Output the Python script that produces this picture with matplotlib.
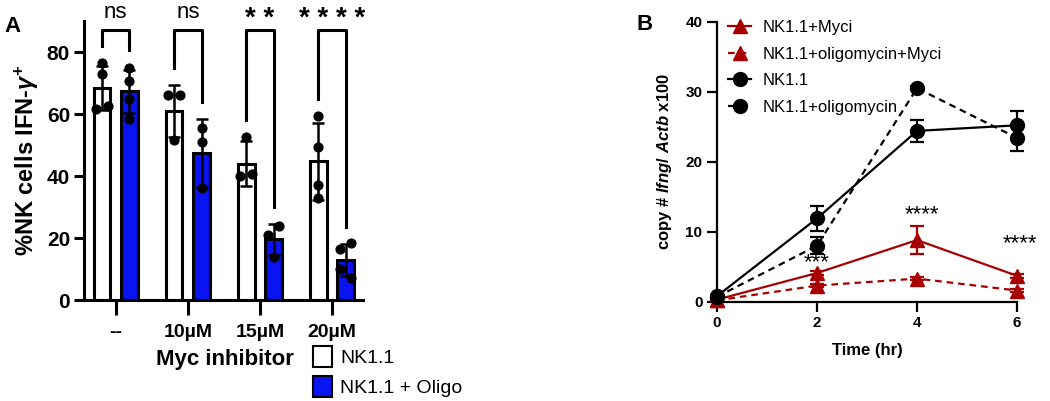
import numpy as np
import matplotlib
matplotlib.use("Agg")
import matplotlib.pyplot as plt
from matplotlib.patches import Patch
from matplotlib.lines import Line2D

plt.rcParams['font.family'] = ['Liberation Sans', 'DejaVu Sans']
plt.rcParams['mathtext.fontset'] = 'custom'
plt.rcParams['mathtext.rm'] = 'Liberation Sans:bold'
plt.rcParams['mathtext.it'] = 'Liberation Sans:bold:italic'
plt.rcParams['mathtext.bf'] = 'Liberation Sans:bold'

# ---------------- Panel A data ----------------
groups = ["--", "10µM", "15µM", "20µM"]
ctrl_mean = [68.4, 61.0, 44.0, 44.7]
ctrl_sd = [7.0, 8.3, 7.3, 12.3]
oligo_mean = [67.3, 47.5, 19.6, 13.0]
oligo_sd = [7.0, 11.0, 5.0, 5.2]
ctrl_points = [[76.5, 73.0, 62.5, 61.5], [66.0, 66.0, 51.5], [52.5, 40.5, 40.0], [59.5, 49.5, 37.0, 33.0]]
oligo_points = [[75.0, 70.5, 65.0, 58.5], [55.5, 51.0, 36.0], [24.0, 21.0, 14.0], [18.5, 16.5, 10.0, 7.0]]
sig_labels = ["ns", "ns", "* *", "* * * *"]
bracket_left_end = [82, 75, 58, 65]
bracket_right_end = [80.5, 64, 30, 23.5]

# ---------------- Panel B data ----------------
time_hr = [0, 2, 4, 6]
myci = [0.3, 4.1, 8.8, 3.7]
myci_err = [0.1, 0.3, 2.0, 0.3]
oligo_myci = [0.2, 2.3, 3.3, 1.6]
oligo_myci_err = [0.1, 0.2, 0.2, 0.2]
nk = [0.8, 11.9, 24.4, 25.2]
nk_err = [0.2, 1.8, 1.6, 2.0]
nk_oligo = [0.7, 8.0, 30.5, 23.4]
nk_oligo_err = [0.2, 1.2, 0.3, 1.8]
star_x = [2, 4.1, 6.05]
star_y = [4.1, 10.9, 6.8]
star_text = ["***", "****", "****"]

BLUE = "#0a14f0"
RED = "#a80000"

fig = plt.figure(figsize=(10.5, 4.01), dpi=100)

# -------------------------------
# Panel A: bar chart
# -------------------------------
axA = fig.add_axes([84 / 1050, 1 - 300 / 401, (363 - 84) / 1050, (300 - 21) / 401])

x = np.arange(len(groups))
off = 0.19
w = 0.23


def jitter(vals):
    xs = []
    last = None
    side = -1
    for v in vals:
        if last is not None and abs(v - last) < 3.5:
            xs.append(side * 0.08)
            if xs[-2] == 0:
                xs[-2] = -side * 0.08
            side = -side
        else:
            xs.append(0.0)
        last = v
    return xs


for i in range(len(groups)):
    for center, mean, sd, pts, col in [
        (x[i] - off, ctrl_mean[i], ctrl_sd[i], ctrl_points[i], "white"),
        (x[i] + off, oligo_mean[i], oligo_sd[i], oligo_points[i], BLUE),
    ]:
        axA.bar(center, mean, width=w, color=col, edgecolor="black", linewidth=2.2, zorder=2)
        axA.errorbar(center, mean, yerr=sd, color="black", capsize=4, elinewidth=1.8,
                     capthick=1.8, zorder=3)
        axA.scatter(center + np.array(jitter(pts)), pts, s=40, color="black", zorder=4)

    # significance bracket
    xl, xr = x[i] - off, x[i] + off
    axA.plot([xl, xl, xr, xr], [bracket_left_end[i], 87, 87, bracket_right_end[i]],
             color="black", lw=2.2, clip_on=False, zorder=1)
    if "*" in sig_labels[i]:
        axA.text(x[i], 90.5, sig_labels[i], ha="center", va="center", fontsize=20,
                 fontweight="bold", clip_on=False)
    else:
        axA.text(x[i], 89.5, sig_labels[i], ha="center", va="bottom", fontsize=16,
                 clip_on=False)

axA.set_xlim(-0.44, 3.43)
axA.set_ylim(0, 90)
axA.set_yticks([0, 20, 40, 60, 80])
axA.set_xticks(x)
axA.set_xticklabels(groups)
for s in ["top", "right"]:
    axA.spines[s].set_visible(False)
for s in ["left", "bottom"]:
    axA.spines[s].set_linewidth(2.2)
axA.tick_params(axis="y", width=2.2, length=7, labelsize=15, pad=3)
axA.tick_params(axis="x", width=2.2, length=11, labelsize=14, pad=6)
for lab in axA.get_xticklabels() + axA.get_yticklabels():
    lab.set_fontweight("bold")
axA.set_ylabel(r"%NK cells IFN-$\gamma^{+}$", fontsize=17, fontweight="bold", labelpad=4)
fig.text(225 / 1050, 1 - 360 / 401, "Myc inhibitor", ha="center", va="center",
         fontsize=16, fontweight="bold")

legA = fig.legend(handles=[Patch(facecolor="white", edgecolor="black", lw=1.5, label="NK1.1"),
                           Patch(facecolor=BLUE, edgecolor="black", lw=1.5, label="NK1.1 + Oligo")],
                  loc="upper left", bbox_to_anchor=(313 / 1050, 1 - 346 / 401), frameon=False,
                  fontsize=14, handlelength=1.0, handleheight=1.3, handletextpad=0.4,
                  labelspacing=0.45, borderpad=0, borderaxespad=0)

fig.text(4 / 1050, 1 - 26 / 401, "A", ha="left", va="center", fontsize=16, fontweight="bold")

# -------------------------------
# Panel B: time course
# -------------------------------
axB = fig.add_axes([717 / 1050, 1 - 301.7 / 401, 300 / 1050, 280 / 401])

series = [
    (myci, myci_err, RED, "^", "-", "NK1.1+Myci"),
    (oligo_myci, oligo_myci_err, RED, "^", (0, (3, 2.2)), "NK1.1+oligomycin+Myci"),
    (nk, nk_err, "black", "o", "-", "NK1.1"),
    (nk_oligo, nk_oligo_err, "black", "o", (0, (3, 2.2)), "NK1.1+oligomycin"),
]
handles = []
for vals, err, col, mk, ls, lab in series:
    axB.errorbar(time_hr, vals, yerr=err, color=col, marker=mk, markersize=10, linestyle=ls,
                 linewidth=1.6, elinewidth=1.6, capsize=5, capthick=1.6, clip_on=False, zorder=3)
    handles.append(Line2D([], [], color=col, marker=mk, markersize=10, linestyle=ls,
                          linewidth=1.6, label=lab))

for sx, sy, st in zip(star_x, star_y, star_text):
    axB.text(sx, sy, st, ha="center", va="bottom", fontsize=16, clip_on=False)

axB.set_xlim(0, 6)
axB.set_ylim(0, 40)
axB.set_xticks([0, 2, 4, 6])
axB.set_yticks([0, 10, 20, 30, 40])
for s in ["top", "right"]:
    axB.spines[s].set_visible(False)
for s in ["left", "bottom"]:
    axB.spines[s].set_linewidth(1.6)
axB.tick_params(axis="both", width=1.6, length=7, labelsize=11)
for lab in axB.get_xticklabels() + axB.get_yticklabels():
    lab.set_fontweight("bold")
axB.set_xlabel("Time (hr)", fontsize=12, fontweight="bold", labelpad=9)
axB.set_ylabel(r"copy # $\mathit{Ifng/\ Actb}$ x100", fontsize=12, fontweight="bold", labelpad=8)

fig.legend(handles=handles, loc="upper left", bbox_to_anchor=(728 / 1050, 1 - 20 / 401),
           frameon=False, fontsize=12, handlelength=1.4, handletextpad=0.7,
           labelspacing=0.7, borderpad=0, borderaxespad=0)

fig.text(636 / 1050, 1 - 24 / 401, "B", ha="left", va="center", fontsize=16, fontweight="bold")

fig.savefig("out.png", dpi=100)
